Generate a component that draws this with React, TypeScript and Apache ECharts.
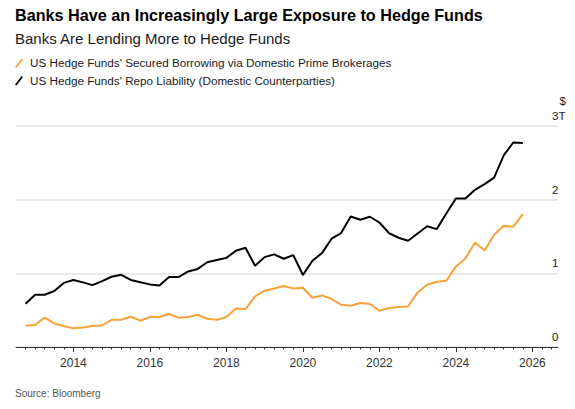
import React, { useEffect, useRef } from "react";
import * as echarts from "echarts";

// Quarterly observations (quarter start)
const quarters = [
  "2012Q4",
  "2013Q1", "2013Q2", "2013Q3", "2013Q4",
  "2014Q1", "2014Q2", "2014Q3", "2014Q4",
  "2015Q1", "2015Q2", "2015Q3", "2015Q4",
  "2016Q1", "2016Q2", "2016Q3", "2016Q4",
  "2017Q1", "2017Q2", "2017Q3", "2017Q4",
  "2018Q1", "2018Q2", "2018Q3", "2018Q4",
  "2019Q1", "2019Q2", "2019Q3", "2019Q4",
  "2020Q1", "2020Q2", "2020Q3", "2020Q4",
  "2021Q1", "2021Q2", "2021Q3", "2021Q4",
  "2022Q1", "2022Q2", "2022Q3", "2022Q4",
  "2023Q1", "2023Q2", "2023Q3", "2023Q4",
  "2024Q1", "2024Q2", "2024Q3", "2024Q4",
  "2025Q1", "2025Q2", "2025Q3", "2025Q4",
];

// $ trillions
const primeBrokerage = [
  0.289, 0.3, 0.4, 0.32, 0.285, 0.253, 0.265, 0.285, 0.293, 0.37, 0.37, 0.411,
  0.357, 0.407, 0.407, 0.448, 0.398, 0.407, 0.438, 0.384, 0.37, 0.407, 0.524,
  0.515, 0.687, 0.764, 0.795, 0.827, 0.795, 0.805, 0.669, 0.7, 0.651, 0.574,
  0.56, 0.597, 0.583, 0.492, 0.529, 0.543, 0.551, 0.741, 0.845, 0.886, 0.9,
  1.094, 1.202, 1.42, 1.311, 1.524, 1.646, 1.632, 1.805,
];

const repoLiability = [
  0.587, 0.71, 0.71, 0.76, 0.87, 0.91, 0.877, 0.84, 0.895, 0.954, 0.98, 0.91,
  0.88, 0.85, 0.835, 0.95, 0.95, 1.026, 1.06, 1.15, 1.18, 1.21, 1.307, 1.347,
  1.103, 1.22, 1.257, 1.198, 1.248, 0.977, 1.171, 1.275, 1.47, 1.547, 1.772,
  1.727, 1.768, 1.69, 1.547, 1.483, 1.442, 1.541, 1.64, 1.6, 1.813, 2.016,
  2.016, 2.134, 2.21, 2.3, 2.6, 2.776, 2.77,
];

const yearLabels = [2014, 2016, 2018, 2020, 2022, 2024, 2026];

const seriesNames = [
  "US Hedge Funds' Secured Borrowing via Domestic Prime Brokerages",
  "US Hedge Funds' Repo Liability (Domestic Counterparties)",
];

const ORANGE = "#f9a13a";
const BLACK = "#000000";
const FONT = "'Liberation Sans', Arial, Helvetica, sans-serif";

const toYear = (q: string) => {
  const y = parseInt(q.slice(0, 4), 10);
  const n = parseInt(q.slice(5), 10);
  return y + (n - 1) * 0.25;
};

export default function App() {
  const ref = useRef<HTMLDivElement>(null);

  useEffect(() => {
    if (!ref.current) return;
    const chart = echarts.init(ref.current, null, { renderer: "svg" });

    const xMin = 2012.5;
    const xMax = 2026.67;
    const quarterTicks: number[] = [];
    for (let v = 2012.75; v <= 2026.5 + 1e-9; v += 0.25) {
      quarterTicks.push(Math.round(v * 100) / 100);
    }

    chart.setOption({
      animation: false,
      backgroundColor: "#ffffff",
      textStyle: { fontFamily: FONT },
      grid: { left: 16, right: 17, top: 126, bottom: 62 },
      xAxis: [
        {
          type: "value",
          min: xMin,
          max: xMax,
          position: "bottom",
          splitLine: { show: false },
          axisLine: { show: true, lineStyle: { color: "#333333", width: 1 } },
          axisTick: {
            show: true,
            customValues: yearLabels,
            length: 5,
            lineStyle: { color: "#333333", width: 1 },
          },
          axisLabel: {
            customValues: yearLabels,
            formatter: (v: number) => String(v),
            color: "#333333",
            fontSize: 12,
            fontFamily: FONT,
            margin: 10,
          },
        },
        {
          type: "value",
          min: xMin,
          max: xMax,
          position: "bottom",
          offset: 0,
          splitLine: { show: false },
          axisLine: { show: false },
          axisTick: {
            show: true,
            customValues: quarterTicks,
            length: 2.5,
            lineStyle: { color: "#333333", width: 1 },
          },
          axisLabel: { show: false },
        },
      ],
      yAxis: {
        type: "value",
        position: "right",
        min: 0,
        max: 3,
        interval: 1,
        axisLine: { show: false },
        axisTick: { show: false },
        splitLine: {
          show: true,
          lineStyle: { color: "#e2e2e2", width: 1.5 },
        },
        axisLabel: {
          margin: -6,
          align: "left",
          verticalAlign: "bottom",
          padding: [0, 0, 4, 0],
          color: "#222222",
          fontSize: 11.5,
          fontFamily: FONT,
          formatter: (v: number | string) =>
            Number(v) === 3 ? "3T" : String(Number(v)),
          showMinLabel: true,
          showMaxLabel: true,
        },
      },
      legend: { show: false },
      series: [
        {
          name: seriesNames[0],
          type: "line",
          xAxisIndex: 0,
          data: quarters.map((q, i) => [toYear(q), primeBrokerage[i]]),
          showSymbol: false,
          lineStyle: { color: ORANGE, width: 2 },
          itemStyle: { color: ORANGE },
          z: 2,
        },
        {
          name: seriesNames[1],
          type: "line",
          xAxisIndex: 0,
          data: quarters.map((q, i) => [toYear(q), repoLiability[i]]),
          showSymbol: false,
          lineStyle: { color: BLACK, width: 2 },
          itemStyle: { color: BLACK },
          z: 3,
        },
      ],
      graphic: [
        {
          type: "text",
          left: 15,
          top: 7,
          style: {
            text: "Banks Have an Increasingly Large Exposure to Hedge Funds",
            font: `bold 16.2px ${FONT}`,
            fill: "#000000",
          },
        },
        {
          type: "text",
          left: 15,
          top: 31,
          style: {
            text: "Banks Are Lending More to Hedge Funds",
            font: `15px ${FONT}`,
            fill: "#1a1a1a",
          },
        },
        {
          type: "polygon",
          shape: { points: [[15, 67], [21.5, 58.5], [23, 59.6], [16.5, 68.1]] },
          style: { fill: ORANGE },
        },
        {
          type: "text",
          left: 30,
          top: 56.5,
          style: {
            text: seriesNames[0],
            font: `11.7px ${FONT}`,
            fill: "#1a1a1a",
          },
        },
        {
          type: "polygon",
          shape: { points: [[15, 84.5], [21.5, 76], [23, 77.1], [16.5, 85.6]] },
          style: { fill: BLACK },
        },
        {
          type: "text",
          left: 30,
          top: 74,
          style: {
            text: seriesNames[1],
            font: `11.7px ${FONT}`,
            fill: "#1a1a1a",
          },
        },
        {
          type: "text",
          x: 566,
          y: 95,
          style: {
            text: "$",
            font: `11.5px ${FONT}`,
            fill: "#222222",
            align: "right",
            verticalAlign: "top",
          },
        },
        {
          type: "text",
          left: 15,
          top: 388,
          style: {
            text: "Source: Bloomberg",
            font: `10px ${FONT}`,
            fill: "#555555",
          },
        },
      ],
    });

    return () => chart.dispose();
  }, []);

  return (
    <div
      ref={ref}
      style={{ position: "fixed", left: 0, top: 0, width: 575, height: 409 }}
    />
  );
}
